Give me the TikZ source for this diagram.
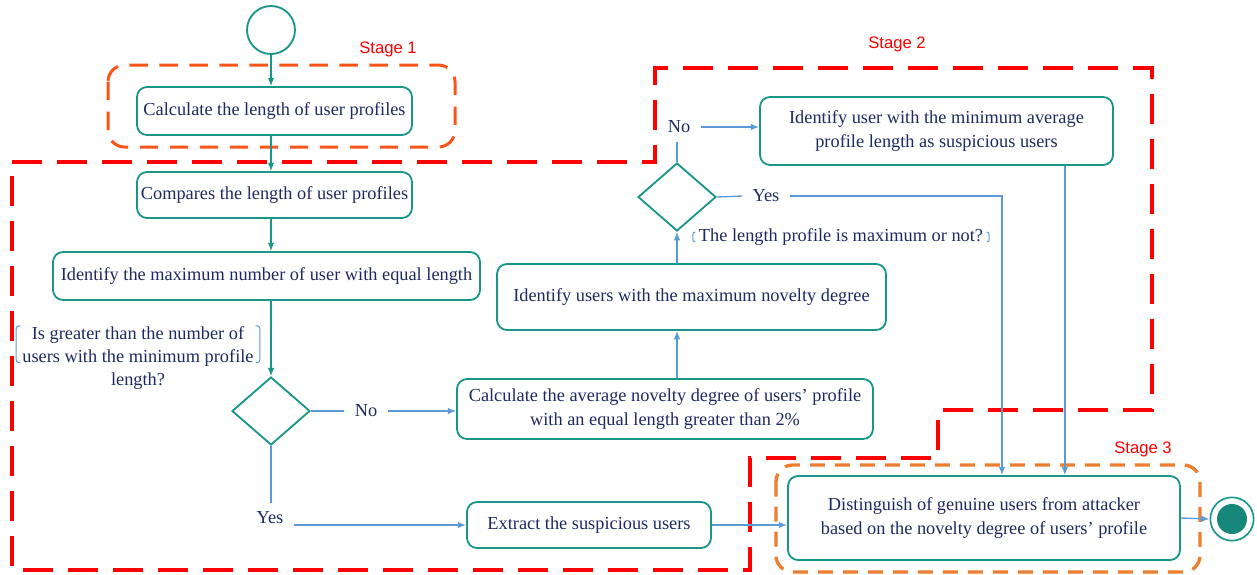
\documentclass[tikz,border=0pt]{standalone}
\usepackage{fontspec}
\setmainfont{Liberation Serif}
\newfontfamily\stagefont{Liberation Sans}
\usetikzlibrary{shapes.geometric,arrows.meta,calc}
\definecolor{flowteal}{RGB}{25,150,136}
\definecolor{inknavy}{RGB}{30,42,95}
\definecolor{linkblue}{RGB}{91,155,213}
\definecolor{stagered}{RGB}{255,0,0}
\definecolor{stageone}{RGB}{250,85,25}
\definecolor{stagethree}{RGB}{237,125,49}
\tikzset{
  act/.style={rectangle, rounded corners=6pt, draw=flowteal, line width=1.1pt,
              align=center, text=inknavy, inner sep=2pt},
  choice/.style={diamond, draw=flowteal, line width=1.1pt, minimum width=46.8pt,
                 minimum height=40.8pt, inner sep=0pt},
  guard/.style={align=center, text=inknavy, inner sep=2pt},
  lbl/.style={text=inknavy, inner xsep=6pt, inner ysep=5pt},
  tarw/.style={-{Latex[length=5pt,width=4pt]}, draw=flowteal, line width=0.8pt},
  barw/.style={-{Latex[length=5pt,width=4pt]}, draw=linkblue, line width=0.8pt},
  bln/.style={draw=linkblue, line width=0.8pt},
  brk/.style={draw=linkblue, line width=0.6pt, rounded corners=1.5pt},
  stagelbl/.style={text=stagered, font=\stagefont\fontsize{10}{12}\selectfont},
  stageframe/.style={line width=2.2pt},
}
\begin{document}
\begin{tikzpicture}[x=0.6pt, y=-0.6pt, font=\fontsize{11}{14}\selectfont]
  \useasboundingbox (0,0) rectangle (1257,574);
  % stage frames
  \draw[stageframe, stagered, dash pattern=on 18pt off 9pt]
    (12,162) -- (655,162) -- (655,68) -- (1152,68) -- (1152,410) -- (938,410)
    -- (938,458) -- (750,458) -- (750,570) -- (12,570) -- cycle;
  \draw[stageframe, stageone, line width=1.8pt, dash pattern=on 11pt off 7pt,
        rounded corners=10pt] (108,65) rectangle (455,147);
  \draw[stageframe, stagethree, line width=2pt, dash pattern=on 9pt off 6pt,
        rounded corners=10pt] (776,465) rectangle (1200,572);
  \node[stagelbl] (s1) at (388,49) {Stage 1};
  \node[stagelbl] (s2) at (897,44) {Stage 2};
  \node[stagelbl] (s3) at (1143,449) {Stage 3};

  % activities
  \node[circle, draw=flowteal, line width=1.1pt, minimum size=28.8pt, inner sep=0pt] (start) at (271,30) {};
  \node[act, minimum width=165pt, minimum height=28.8pt] (calc) at (274.5,111)
    {Calculate the length of user profiles};
  \node[act, minimum width=165pt, minimum height=27.6pt] (comp) at (274.5,195)
    {Compares the length of user profiles};
  \node[act, minimum width=256.2pt, minimum height=28.8pt] (maxn) at (266.5,276)
    {Identify the maximum number of user with equal length};
  \node[choice] (d1) at (271,411) {};
  \node[guard] (g1) at (138,358)
    {Is greater than the number of\\users with the minimum profile\\length?};
  \node[act, minimum width=249.6pt, minimum height=36pt] (avg) at (665,409)
    {Calculate the average novelty degree of users' profile\\with an equal length greater than 2\%};
  \node[act, minimum width=233.4pt, minimum height=39.6pt] (maxd) at (691.5,297)
    {Identify users with the maximum novelty degree};
  \node[choice] (d2) at (677,197) {};
  \node[guard] (g2) at (841,237) {The length profile is maximum or not?};
  \node[act, minimum width=211.8pt, minimum height=40.8pt] (mina) at (936.5,131)
    {Identify user with the minimum average\\profile length as suspicious users};
  \node[act, minimum width=146.4pt, minimum height=27.6pt] (extr) at (589,525)
    {Extract the suspicious users};
  \node[act, minimum width=235.2pt, minimum height=50.4pt] (dist) at (984,518)
    {Distinguish of genuine users from attacker\\based on the novelty degree of users' profile};
  \node[circle, draw=flowteal, line width=1pt, minimum size=26pt, inner sep=0pt] (endo) at (1232,519) {};
  \node[circle, fill=flowteal!90!black, minimum size=18pt, inner sep=0pt] (endi) at (endo) {};

  % branch labels
  \node[lbl] (no1) at (366,411) {No};
  \node[lbl] (yes1) at (270,518) {Yes};
  \node[lbl] (no2) at (679,127) {No};
  \node[lbl] (yes2) at (766,196) {Yes};

  % guard brackets
  \draw[brk] ([xshift=1pt,yshift=-2pt]g1.north west) -- ++(-2.5pt,0) -- ++(0,-22pt) -- ++(2.5pt,0);
  \draw[brk] ([xshift=-1pt,yshift=-2pt]g1.north east) -- ++(2.5pt,0) -- ++(0,-22pt) -- ++(-2.5pt,0);
  \draw[brk] ([yshift=3pt]g2.west) -- ++(-1.5pt,0) -- ++(0,-6pt) -- ++(1.5pt,0);
  \draw[brk] ([yshift=3pt]g2.east) -- ++(1.5pt,0) -- ++(0,-6pt) -- ++(-1.5pt,0);

  % connectors
  \draw[tarw] (start.south) -- (start.south |- calc.north);
  \draw[tarw] (calc.south -| start) -- (comp.north -| start);
  \draw[tarw] (comp.south -| start) -- (maxn.north -| start);
  \draw[tarw] (maxn.south -| d1) -- (d1.north);
  \draw[bln] (d1.east) -- (no1.west);
  \draw[barw] (no1.east) -- (no1.east -| avg.west);
  \draw[bln] (d1.south) -- (yes1.north -| d1);
  \draw[barw] (yes1.east |- extr.west) -- (extr.west);
  \draw[barw] (avg.north -| d2) -- (maxd.south -| d2);
  \draw[barw] (maxd.north -| d2) -- (d2.south);
  \draw[bln] (d2.north) -- (no2.south -| d2);
  \draw[barw] (no2.east) -- (no2.east -| mina.west);
  \draw[bln] (d2.east) -- (yes2.west);
  \draw[barw] (yes2.east) -| ([xshift=10.8pt]dist.north);
  \draw[barw] ([xshift=77pt]mina.south) -- ([xshift=77pt]mina.south |- dist.north);
  \draw[barw] (extr.east) -- (extr.east -| dist.west);
  \draw[barw] (dist.east) -- (endo.west);
\end{tikzpicture}
\end{document}
